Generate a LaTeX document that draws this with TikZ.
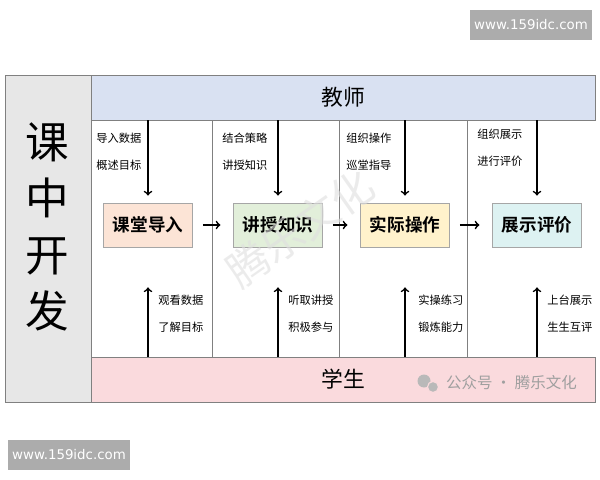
\documentclass[tikz,border=0pt]{standalone}
\usepackage{fontspec}
\setmainfont{Noto Sans CJK SC}[BoldFont={Noto Sans CJK SC Bold}]
\newfontfamily\webfont{DejaVu Sans}

\definecolor{sidegray}{HTML}{E7E7E7}
\definecolor{teacherblue}{HTML}{D9E1F2}
\definecolor{studentpink}{HTML}{FADADD}
\definecolor{introfill}{HTML}{FCE4D6}
\definecolor{teachfill}{HTML}{E2EFDA}
\definecolor{practicefill}{HTML}{FFF2CC}
\definecolor{showfill}{HTML}{DDF2F2}

\def\Ax{148}
\def\Bx{278}
\def\Cx{405}
\def\Dx{537}

\begin{document}
\begin{tikzpicture}[x=0.025cm, y=-0.025cm, line width=0.6pt,
    band/.style={draw=gray, minimum width=12.6cm, minimum height=1.125cm, inner sep=0pt, font=\fontsize{15.5}{18}\selectfont},
    stage/.style={draw=gray!70, minimum width=2.225cm, minimum height=1.1cm, inner sep=0pt, font=\bfseries\fontsize{12.5}{14}\selectfont},
    note/.style={anchor=west, align=left, inner sep=0pt, font=\fontsize{8}{19}\selectfont},
    flow/.style={->, line width=1.2pt},
    stamp/.style={fill=gray!65, text=white, minimum width=2.95cm, minimum height=0.73cm, font=\webfont\fontsize{9.5}{11}\selectfont}]
    \useasboundingbox (0,0) rectangle (600,480);

    % frame and side column
    \fill[white] (5,75) rectangle (595,402);
    \node[draw=gray, fill=sidegray, minimum width=2.15cm, minimum height=8.175cm, inner sep=0pt] (side) at (48,238.5) {};
    \node[align=center, inner sep=0pt, font=\fontsize{31}{40}\selectfont] (sideT) at (47,227) {课\\中\\开\\发};
    \node[band, fill=teacherblue] (teacher) at (343,97.5) {教师};
    \node[band, fill=studentpink] (student) at (343,379.5) {学生};

    % column dividers
    \draw[gray] (212,120) -- (212,357);
    \draw[gray] (339,120) -- (339,357);
    \draw[gray] (467,120) -- (467,357);

    % stages
    \node[stage, fill=introfill] (intro) at (\Ax,225) {课堂导入};
    \node[stage, fill=teachfill] (teach) at (\Bx,225) {讲授知识};
    \node[stage, fill=practicefill] (practice) at (\Cx,225) {实际操作};
    \node[stage, fill=showfill] (show) at (\Dx,225) {展示评价};

    \draw[flow, shorten <=7pt, shorten >=9pt] (intro.east) -- (teach.west);
    \draw[flow, shorten <=7pt, shorten >=9pt] (teach.east) -- (practice.west);
    \draw[flow, shorten <=7pt, shorten >=9pt] (practice.east) -- (show.west);

    % teacher side
    \draw[flow, shorten >=5pt] (intro |- teacher.south) -- (intro.north);
    \draw[flow, shorten >=5pt] (teach |- teacher.south) -- (teach.north);
    \draw[flow, shorten >=5pt] (practice |- teacher.south) -- (practice.north);
    \draw[flow, shorten >=5pt] (show |- teacher.south) -- (show.north);
    \node[note] (introT) at (96,151.5) {导入数据\\概述目标};
    \node[note] (teachT) at (222,151.5) {结合策略\\讲授知识};
    \node[note] (practiceT) at (346,151.5) {组织操作\\巡堂指导};
    \node[note] (showT) at (477,148) {组织展示\\进行评价};

    % student side
    \draw[flow, shorten >=1cm] (intro |- student.north) -- (intro.south);
    \draw[flow, shorten >=1cm] (teach |- student.north) -- (teach.south);
    \draw[flow, shorten >=1cm] (practice |- student.north) -- (practice.south);
    \draw[flow, shorten >=1cm] (show |- student.north) -- (show.south);
    \node[note] (introS) at (158,314) {观看数据\\了解目标};
    \node[note] (teachS) at (288,314) {听取讲授\\积极参与};
    \node[note] (practiceS) at (418,314) {实操练习\\锻炼能力};
    \node[note] (showS) at (547,314) {上台展示\\生生互评};

    % watermarks
    \node[text=gray!25, rotate=35, font=\fontsize{30}{32}\selectfont, opacity=0.6] (mark) at (300,228) {腾乐文化};
    \fill[gray!55] (424,381) circle (6.5);
    \fill[gray!55, draw=studentpink, line width=0.8pt] (433,387) circle (5.5);
    \node[anchor=west, text=gray!75, font=\fontsize{11}{13}\selectfont] (account) at (441,383) {公众号 · 腾乐文化};
    \node[stamp] (stampTop) at (531,25) {www.159idc.com};
    \node[stamp] (stampBottom) at (69,455) {www.159idc.com};
\end{tikzpicture}
\end{document}
